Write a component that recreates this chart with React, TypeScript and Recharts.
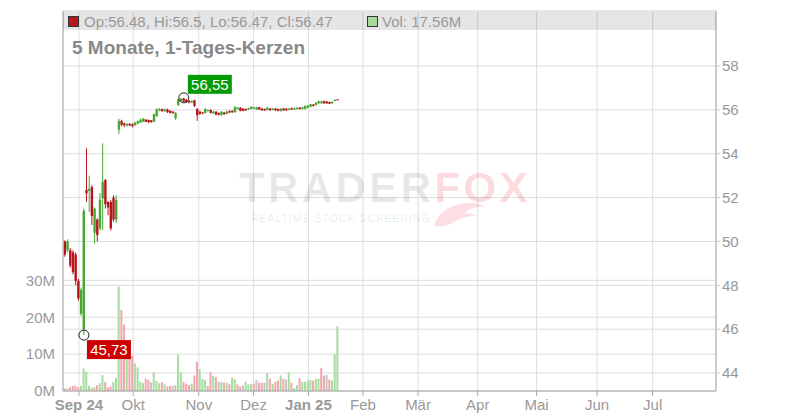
import { ComposedChart, Bar, XAxis, YAxis, CartesianGrid, ReferenceDot } from 'recharts';

// daily candles, Aug 2024 - Jan 2025
const opens = [
  50.0, 49.6, 49.6, 49.5, 49.4, 48.2, 46.7, 46.0, 52.35, 52.3,
  52.48, 50.4, 51.0, 50.6, 51.97, 52.8, 51.8, 51.8, 52.0, 51.0,
  55.1, 55.5, 55.38, 55.28, 55.36, 55.34, 55.3, 55.38, 55.42, 55.46,
  55.56, 55.54, 55.52, 55.46, 55.72, 55.98, 56.04, 55.94, 56.02, 55.96,
  55.92, 55.62, 56.22, 56.4, 56.52, 56.46, 56.42, 56.34, 56.44, 56.04,
  55.92, 55.88, 55.86, 55.96, 56.0, 55.84, 55.92, 55.86, 55.78, 55.88,
  55.82, 55.94, 55.96, 55.9, 56.04, 56.1, 56.06, 56.04, 56.02, 56.04,
  56.06, 56.02, 56.12, 56.06, 56.04, 56.0, 56.06, 56.0, 56.06, 56.04,
  55.96, 56.06, 56.06, 56.0, 56.08, 56.02, 56.04, 56.1, 56.04, 56.04,
  56.1, 56.14, 56.24, 56.22, 56.3, 56.3, 56.4, 56.38, 56.36, 56.3,
  56.42, 56.48,
];
const closes = [
  49.4, 50.0, 48.9, 48.6, 48.2, 47.4, 47.8, 51.4, 52.2, 52.4,
  51.16, 51.5, 50.3, 51.9, 52.72, 51.7, 51.55, 50.6, 51.0, 51.9,
  55.5, 55.32, 55.3, 55.36, 55.3, 55.26, 55.42, 55.48, 55.56, 55.6,
  55.46, 55.44, 55.44, 55.8, 56.02, 56.04, 55.94, 56.02, 55.9, 55.86,
  55.86, 55.86, 56.48, 56.52, 56.38, 56.36, 56.34, 56.4, 56.18, 55.76,
  55.82, 55.84, 56.04, 56.0, 55.86, 55.92, 55.78, 55.78, 55.92, 55.8,
  55.92, 55.88, 55.9, 56.12, 56.1, 55.96, 55.96, 55.98, 56.08, 56.14,
  56.12, 56.12, 56.02, 55.98, 55.98, 56.1, 55.98, 56.06, 55.98, 55.96,
  56.06, 55.98, 55.98, 56.06, 56.02, 56.08, 56.1, 56.04, 56.12, 56.18,
  56.2, 56.26, 56.18, 56.32, 56.4, 56.38, 56.3, 56.3, 56.28, 56.36,
  56.45, 56.47,
];
const highs = [
  50.05, 50.1, 49.7, 49.6, 49.5, 48.3, 47.9, 51.5, 54.25, 53.0,
  52.57, 51.55, 51.05, 52.2, 54.47, 52.85, 51.85, 51.9, 52.1, 52.1,
  55.6, 55.55, 55.42, 55.4, 55.4, 55.38, 55.46, 55.52, 55.6, 55.64,
  55.58, 55.56, 55.54, 55.84, 56.08, 56.08, 56.06, 56.06, 56.06, 55.98,
  55.94, 55.9, 56.52, 56.53, 56.55, 56.5, 56.44, 56.44, 56.46, 56.08,
  55.96, 55.9, 56.08, 56.02, 56.02, 55.96, 55.94, 55.88, 55.94, 55.9,
  55.96, 55.98, 55.98, 56.18, 56.12, 56.12, 56.08, 56.06, 56.1, 56.16,
  56.14, 56.14, 56.14, 56.08, 56.06, 56.12, 56.08, 56.08, 56.08, 56.06,
  56.08, 56.08, 56.08, 56.08, 56.1, 56.1, 56.12, 56.12, 56.14, 56.2,
  56.22, 56.28, 56.26, 56.36, 56.42, 56.42, 56.42, 56.4, 56.38, 56.4,
  56.5, 56.5,
];
const lows = [
  49.3, 49.5, 48.8, 48.5, 48.0, 47.3, 46.6, 45.73, 51.8, 51.35,
  50.75, 49.9, 50.0, 50.5, 50.52, 51.5, 51.2, 50.5, 50.9, 50.85,
  54.9, 55.25, 55.22, 55.24, 55.26, 55.2, 55.28, 55.34, 55.4, 55.44,
  55.44, 55.4, 55.42, 55.44, 55.68, 55.94, 55.92, 55.92, 55.86, 55.84,
  55.82, 55.55, 56.18, 56.36, 56.34, 56.32, 56.3, 56.32, 56.14, 55.5,
  55.78, 55.8, 55.84, 55.92, 55.84, 55.82, 55.76, 55.74, 55.72, 55.78,
  55.8, 55.86, 55.86, 55.86, 56.02, 55.94, 55.94, 55.96, 56.0, 56.02,
  56.04, 56.0, 56.0, 55.96, 55.96, 55.98, 55.96, 55.98, 55.96, 55.94,
  55.92, 55.96, 55.96, 55.98, 56.0, 56.0, 56.02, 56.02, 56.02, 56.02,
  56.08, 56.12, 56.16, 56.2, 56.28, 56.28, 56.28, 56.28, 56.26, 56.28,
  56.4, 56.47,
];
// volume in millions
const volumes = [
  0.7, 0.7, 1.0, 1.4, 1.4, 1.0, 1.4, 6.1, 5.2, 1.4,
  0.8, 1.0, 1.6, 2.1, 4.3, 2.5, 1.0, 1.2, 2.5, 3.6,
  28.3, 22, 18, 13, 9.3, 9.5, 7.5, 6.4, 2.5, 2.2,
  3.4, 3.0, 2.3, 5.1, 2.7, 2.1, 2.4, 1.8, 1.2, 1.4,
  1.4, 1.6, 9.9, 5.1, 2.5, 2.0, 1.6, 2.0, 4.2, 7.9,
  5.9, 3.3, 3.0, 1.4, 5.1, 4.1, 3.8, 2.5, 2.5, 2.3,
  2.3, 1.8, 3.6, 3.2, 1.8, 1.2, 1.5, 2.5, 1.8, 1.9,
  2.0, 3.0, 2.3, 2.2, 2.2, 4.9, 3.3, 1.9, 2.5, 2.8,
  4.2, 3.3, 3.1, 5.1, 2.2, 0.8, 1.6, 3.5, 2.5, 2.5,
  2.8, 3.0, 2.8, 3.3, 3.3, 6.2, 4.2, 4.3, 3.1, 2.8,
  10.0, 17.56,
];

const monthTicks = [5.9, 26.0, 50.3, 70.6, 90.9, 111.1, 131.5, 153.6, 175.4, 197.8, 218.4];
const monthLabels = ['Sep 24', 'Okt', 'Nov', 'Dez', 'Jan 25', 'Feb', 'Mär', 'Apr', 'Mai', 'Jun', 'Jul'];
const priceTicks = [44, 46, 48, 50, 52, 54, 56, 58];
const volTicks = [0, 10, 20, 30];

const RED = '#b5161b';
const GREEN = '#46a832';
const GRAY = '#999999';
const VOL_RED = '#f2a5ad';
const VOL_GREEN = '#a8dba0';
const VOL_GRAY = '#c4c4c4';
const FONT = '"Liberation Sans", Arial, sans-serif';

const data = opens.map((o, i) => ({
  x: i + 0.75,
  open: o,
  close: closes[i],
  high: highs[i],
  low: lows[i],
  range: [lows[i], highs[i]],
  vol: volumes[i],
  volDir: closes[i] - (i > 0 ? closes[i - 1] : o),
}));

const hiIdx = highs.indexOf(Math.max(...highs));
const loIdx = lows.indexOf(Math.min(...lows));
const last = data.length - 1;
const fmt = (v: number) => v.toFixed(2).replace('.', ',');

const Candle = (props: any) => {
  const { x, y, width, height, payload } = props;
  const cx = x + width / 2;
  const top = Math.min(y, y + height);
  const h = Math.abs(height);
  const span = payload.high - payload.low;
  const k = span > 0 ? h / span : 0;
  const bTop = top + (payload.high - Math.max(payload.open, payload.close)) * k;
  const bBot = top + (payload.high - Math.min(payload.open, payload.close)) * k;
  const color = payload.close > payload.open ? GREEN : payload.close < payload.open ? RED : GRAY;
  return (
    <g>
      <line x1={cx} x2={cx} y1={top} y2={top + h} stroke={color} strokeWidth={1} />
      <rect x={cx - 1.2} y={bTop} width={2.4} height={Math.max(1, bBot - bTop)} fill={color} />
    </g>
  );
};

const VolBar = (props: any) => {
  const { x, y, width, height, payload } = props;
  const cx = x + width / 2;
  const color = payload.volDir > 0 ? VOL_GREEN : payload.volDir < 0 ? VOL_RED : VOL_GRAY;
  return <rect x={cx - 1} y={y} width={2} height={height} fill={color} />;
};

const MonthTick = (props: any) => {
  const { x, y, payload } = props;
  const i = monthTicks.indexOf(payload.value);
  const label = monthLabels[i] ?? '';
  return (
    <text x={x} y={y} dy={12} textAnchor='middle' fill='#999' fontSize={15} fontFamily={FONT} fontWeight={label.includes(' ') ? 700 : 400}>
      {label}
    </text>
  );
};

const tagLabel = (text: string, bg: string, dx: number, dy: number) => (p: any) => {
  const vb = p.viewBox;
  const cx = vb.x + vb.width / 2;
  const cy = vb.y + vb.height / 2;
  return (
    <g>
      <rect x={cx + dx} y={cy + dy} width={44} height={19} fill={bg} />
      <text x={cx + dx + 22} y={cy + dy + 15} textAnchor='middle' fill='#fff' fontSize={15} fontFamily={FONT}>
        {text}
      </text>
    </g>
  );
};

export default function App() {
  const lastRow = data[last];
  return (
    <div style={{ position: 'relative', width: 800, height: 420, fontFamily: FONT, background: '#fff' }}>
      <style>{'body{margin:0}'}</style>
      <ComposedChart width={800} height={420} data={data} margin={{ top: 11, right: 0, bottom: 0, left: 0 }}>
        <CartesianGrid xAxisId='p' yAxisId='price' stroke='#dddddd' />
        <CartesianGrid xAxisId='p' yAxisId='vol' vertical={false} stroke='#dddddd' />
        <XAxis
          xAxisId='p'
          type='number'
          dataKey='x'
          domain={[0, 241.85]}
          ticks={monthTicks}
          interval={0}
          allowDataOverflow
          height={29}
          tick={<MonthTick />}
          axisLine={{ stroke: '#aaa' }}
          tickLine={{ stroke: '#aaa' }}
          tickSize={5}
        />
        <XAxis xAxisId='v' type='number' dataKey='x' domain={[0, 241.85]} allowDataOverflow hide />
        <YAxis
          yAxisId='vol'
          orientation='left'
          width={63}
          domain={[0, 103]}
          ticks={volTicks}
          interval={0}
          allowDataOverflow
          tickFormatter={(v) => `${v}M`}
          axisLine={{ stroke: '#aaa' }}
          tickLine={false}
          tick={{ fill: '#999', fontSize: 15, fontFamily: FONT }}
        />
        <YAxis
          yAxisId='price'
          orientation='right'
          width={84}
          domain={[43.18, 60.51]}
          ticks={priceTicks}
          interval={0}
          allowDataOverflow
          axisLine={{ stroke: '#aaa' }}
          tickLine={{ stroke: '#ccc' }}
          tickSize={4}
          tick={{ fill: '#999', fontSize: 15, fontFamily: FONT }}
        />
        <Bar xAxisId='v' yAxisId='vol' dataKey='vol' barSize={2} shape={VolBar} isAnimationActive={false} />
        <Bar xAxisId='p' yAxisId='price' dataKey='range' barSize={3} shape={Candle} isAnimationActive={false} />
        <ReferenceDot
          xAxisId='p'
          yAxisId='price'
          x={data[hiIdx].x}
          y={highs[hiIdx]}
          r={5}
          fill='none'
          stroke='#222'
          label={tagLabel(fmt(highs[hiIdx]), '#079a07', 4, -23)}
        />
        <ReferenceDot
          xAxisId='p'
          yAxisId='price'
          x={data[loIdx].x}
          y={lows[loIdx]}
          r={5}
          fill='none'
          stroke='#222'
          label={tagLabel(fmt(lows[loIdx]), '#cc0000', 3, 5)}
        />
      </ComposedChart>

      <div style={{ position: 'absolute', left: 63, top: 12, width: 653, height: 18, background: 'rgba(0,0,0,0.1)', pointerEvents: 'none' }} />
      <div style={{ position: 'absolute', left: 68, top: 16, width: 9, height: 9, background: RED, border: '1px solid #333' }} />
      <div style={{ position: 'absolute', left: 84, top: 14, fontSize: 15, lineHeight: '15px', color: '#999', whiteSpace: 'nowrap' }}>
        {`Op:${lastRow.open}, Hi:${lastRow.high}, Lo:${lastRow.low}, Cl:${lastRow.close}`}
      </div>
      <div style={{ position: 'absolute', left: 367, top: 16, width: 9, height: 9, background: VOL_GREEN, border: '1px solid #333' }} />
      <div style={{ position: 'absolute', left: 382, top: 14, fontSize: 15, lineHeight: '15px', color: '#999', whiteSpace: 'nowrap' }}>
        {`Vol: ${lastRow.vol}M`}
      </div>
      <div style={{ position: 'absolute', left: 72, top: 38, fontSize: 19, lineHeight: '19px', fontWeight: 700, color: '#888', whiteSpace: 'nowrap' }}>
        5 Monate, 1-Tages-Kerzen
      </div>

      {/* watermark */}
      <div style={{ position: 'absolute', left: 239, top: 167, fontSize: 42, lineHeight: '42px', fontWeight: 700, letterSpacing: 3.4, whiteSpace: 'nowrap', pointerEvents: 'none' }}>
        <span style={{ color: 'rgba(0,0,0,0.09)' }}>TRADER</span>
        <span style={{ color: 'rgba(230,30,50,0.16)' }}>FOX</span>
      </div>
      <div style={{ position: 'absolute', left: 251, top: 214, fontSize: 10, lineHeight: '10px', letterSpacing: 1.3, color: 'rgba(0,0,0,0.1)', whiteSpace: 'nowrap', pointerEvents: 'none' }}>
        REALTIME STOCK SCREENING
      </div>
      <svg style={{ position: 'absolute', left: 0, top: 0, pointerEvents: 'none' }} width={800} height={420}>
        <path d='M434 226 C438 212 452 203 470 203 C478 203 483 205 485 207 C476 206 468 209 464 214 C470 213 474 214 476 216 C466 216 458 219 452 223 C446 226 440 227 434 226 Z' fill='rgba(230,30,50,0.14)' />
      </svg>
    </div>
  );
}
